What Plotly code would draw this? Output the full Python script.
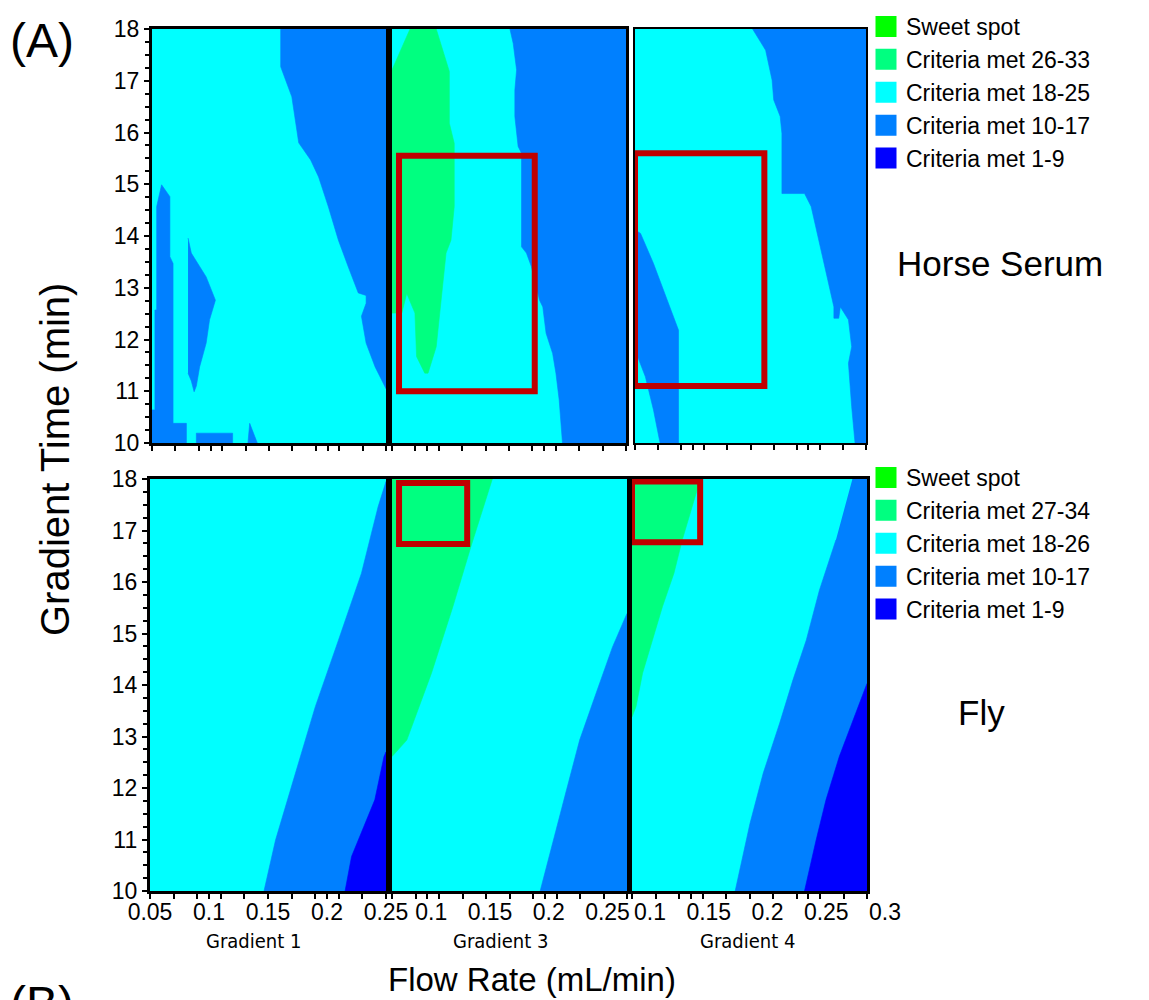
import plotly.graph_objects as go

W, H = 1149, 1000
FONT = "Arial, Liberation Sans, sans-serif"
NARROW = "Liberation Sans Narrow, Arial Narrow, DejaVu Sans Condensed, Liberation Sans, sans-serif"

# ---------------- data ----------------
FLOW_RANGES = [[0.05, 0.25], [0.07, 0.27], [0.10, 0.30]]
TIME_RANGE = [10, 18]
FLOW_TICKS = [0.05, 0.1, 0.15, 0.2, 0.25, 0.3]
FLOW_TICK_TEXT = ["0.05", "0.1", "0.15", "0.2", "0.25", "0.3"]
TIME_TICKS = [10, 11, 12, 13, 14, 15, 16, 17, 18]
GRADIENTS = ["Gradient 1", "Gradient 3", "Gradient 4"]
SAMPLES = ["Horse Serum", "Fly"]

LEVELS_HS = ["Sweet spot", "Criteria met 26-33", "Criteria met 18-25", "Criteria met 10-17", "Criteria met 1-9"]
LEVELS_FLY = ["Sweet spot", "Criteria met 27-34", "Criteria met 18-26", "Criteria met 10-17", "Criteria met 1-9"]
LEVEL_COLORS = ["#00FF00", "#00FF80", "#00FFFF", "#0080FF", "#0000FF"]
BASE_LEVEL = 2  # "Criteria met 18-25/26" fills each design space

# Horse serum, gradient 1 (region outlines: flow rate, gradient time)
hs_g1_right_flow = [0.160, 0.160, 0.1695, 0.1754, 0.1856, 0.1924, 0.2008, 0.2093, 0.2178, 0.2263, 0.2330, 0.2330, 0.2290, 0.2330, 0.2407, 0.2475, 0.250, 0.250]
hs_g1_right_time = [18.0, 17.27, 16.69, 15.80, 15.47, 15.14, 14.56, 13.92, 13.40, 12.90, 12.85, 12.70, 12.45, 11.93, 11.47, 11.15, 11.05, 18.0]
hs_g1_strip_flow = [0.050, 0.050, 0.0525, 0.0525, 0.054, 0.054, 0.0582, 0.0653, 0.0653, 0.068, 0.068, 0.0794, 0.0794]
hs_g1_strip_time = [10.0, 10.64, 10.64, 12.57, 12.57, 14.57, 14.99, 14.76, 13.60, 13.47, 10.38, 10.38, 10.0]
hs_g1_sliver_flow = [0.0808, 0.0836, 0.0963, 0.1042, 0.0992, 0.0963, 0.0907, 0.0879, 0.0860, 0.0836, 0.0808]
hs_g1_sliver_time = [13.96, 13.67, 13.21, 12.76, 12.38, 11.93, 11.47, 11.10, 10.99, 11.20, 11.35]
hs_g1_foot_flow = [0.0879, 0.0879, 0.1189, 0.1189]
hs_g1_foot_time = [10.0, 10.19, 10.19, 10.0]
hs_g1_spike_flow = [0.132, 0.1335, 0.140]
hs_g1_spike_time = [10.0, 10.38, 10.0]

# Horse serum, gradient 3
hs_g3_green_flow = [0.070, 0.0854, 0.1078, 0.1134, 0.1190, 0.1190, 0.1232, 0.1232, 0.1204, 0.1162, 0.1120, 0.1078, 0.1008, 0.0980, 0.0910, 0.0896, 0.0826, 0.0784, 0.070]
hs_g3_green_time = [17.21, 18.0, 18.0, 17.59, 17.18, 16.18, 15.79, 14.57, 13.92, 13.67, 12.76, 11.86, 11.35, 11.35, 11.67, 12.51, 12.89, 12.51, 12.51]
hs_g3_blue_flow = [0.1708, 0.1736, 0.1765, 0.1750, 0.1750, 0.1778, 0.1807, 0.1807, 0.1849, 0.1891, 0.1933, 0.1961, 0.1989, 0.2017, 0.2073, 0.2101, 0.2129, 0.2143, 0.2157, 0.270, 0.270]
hs_g3_blue_time = [18.0, 17.72, 17.21, 16.82, 16.31, 15.73, 15.60, 13.79, 13.67, 13.41, 13.02, 12.76, 12.63, 12.12, 11.73, 11.35, 10.83, 10.31, 10.0, 10.0, 18.0]

# Horse serum, gradient 4
hs_g4_blue_flow = [0.2018, 0.2131, 0.2187, 0.2201, 0.2257, 0.2272, 0.2272, 0.2468, 0.2525, 0.2595, 0.2665, 0.2722, 0.2722, 0.2764, 0.2778, 0.2848, 0.2876, 0.2848, 0.2876, 0.2905, 0.300, 0.300]
hs_g4_blue_time = [18.0, 17.59, 17.01, 16.63, 16.31, 15.98, 14.82, 14.82, 14.57, 13.86, 13.15, 12.63, 12.41, 12.41, 12.63, 12.38, 11.86, 11.54, 10.70, 10.0, 10.0, 18.0]
hs_g4_left_flow = [0.100, 0.1048, 0.1160, 0.1259, 0.1343, 0.1377, 0.1377, 0.1217, 0.1160, 0.1090, 0.100]
hs_g4_left_time = [14.12, 14.05, 13.47, 12.89, 12.41, 12.18, 10.0, 10.0, 10.64, 11.28, 11.80]

# Fly, gradient 1
fly_g1_blue_flow = [0.1466, 0.1564, 0.1733, 0.1901, 0.2097, 0.2292, 0.2433, 0.2475, 0.250, 0.250]
fly_g1_blue_time = [10.0, 10.99, 12.29, 13.58, 14.87, 16.17, 17.46, 17.79, 17.95, 10.0]
fly_g1_dark_flow = [0.2153, 0.2208, 0.2405, 0.2483, 0.250, 0.250]
fly_g1_dark_time = [10.0, 10.67, 11.77, 12.61, 12.70, 10.0]

# Fly, gradient 3
fly_g3_green_flow = [0.070, 0.1554, 0.1372, 0.1218, 0.1036, 0.0826, 0.070]
fly_g3_green_time = [18.0, 18.0, 16.69, 15.52, 14.23, 12.93, 12.61]
fly_g3_blue_flow = [0.270, 0.2577, 0.2437, 0.2297, 0.2185, 0.2072, 0.1961, 0.270]
fly_g3_blue_time = [15.39, 14.74, 13.84, 12.93, 11.96, 10.99, 10.0, 10.0]

# Fly, gradient 4
fly_g4_green_flow = [0.100, 0.1582, 0.1428, 0.1357, 0.1259, 0.1174, 0.1090, 0.1034, 0.100]
fly_g4_green_time = [18.0, 18.0, 16.82, 16.17, 15.52, 14.87, 14.23, 13.58, 13.38]
fly_g4_blue_flow = [0.2876, 0.300, 0.300, 0.1878, 0.2004, 0.2117, 0.2257, 0.2370, 0.2483, 0.2595, 0.2736]
fly_g4_blue_time = [18.0, 18.0, 10.0, 10.0, 11.31, 12.29, 13.26, 14.10, 14.87, 15.84, 16.82]
fly_g4_dark_flow = [0.300, 0.2764, 0.2651, 0.2567, 0.2468, 0.300]
fly_g4_dark_time = [14.03, 12.61, 11.77, 10.99, 10.0, 10.0]

# highlighted operating windows (flow range, time range)
hs_g3_box_flow = [0.076, 0.192]
hs_g3_box_time = [11.0, 15.55]
hs_g4_box_flow = [0.100, 0.212]
hs_g4_box_time = [11.1, 15.6]
fly_g3_box_flow = [0.076, 0.134]
fly_g3_box_time = [16.74, 17.92]
fly_g4_box_flow = [0.100, 0.158]
fly_g4_box_time = [16.77, 17.95]

# panel numbering: 1-3 horse serum (G1, G3, G4), 4-6 fly
REGIONS = [
    (1, 3, hs_g1_right_flow, hs_g1_right_time),
    (1, 3, hs_g1_strip_flow, hs_g1_strip_time),
    (1, 3, hs_g1_sliver_flow, hs_g1_sliver_time),
    (1, 3, hs_g1_foot_flow, hs_g1_foot_time),
    (1, 3, hs_g1_spike_flow, hs_g1_spike_time),
    (2, 1, hs_g3_green_flow, hs_g3_green_time),
    (2, 3, hs_g3_blue_flow, hs_g3_blue_time),
    (3, 3, hs_g4_blue_flow, hs_g4_blue_time),
    (3, 3, hs_g4_left_flow, hs_g4_left_time),
    (4, 3, fly_g1_blue_flow, fly_g1_blue_time),
    (4, 4, fly_g1_dark_flow, fly_g1_dark_time),
    (5, 1, fly_g3_green_flow, fly_g3_green_time),
    (5, 3, fly_g3_blue_flow, fly_g3_blue_time),
    (6, 1, fly_g4_green_flow, fly_g4_green_time),
    (6, 3, fly_g4_blue_flow, fly_g4_blue_time),
    (6, 4, fly_g4_dark_flow, fly_g4_dark_time),
]
BOXES = [
    (2, hs_g3_box_flow, hs_g3_box_time),
    (3, hs_g4_box_flow, hs_g4_box_time),
    (5, fly_g3_box_flow, fly_g3_box_time),
    (6, fly_g4_box_flow, fly_g4_box_time),
]

# ---------------- layout geometry (pixels) ----------------
COL_PX = [
    [[152, 386], [392, 626], [635, 866]],   # top row
    [[150, 386], [392, 627], [632, 867]],   # bottom row
]
ROW_PX = [[29, 443], [479, 891]]
LINE_W = [[3.3, 3.3, 2.4], [3.3, 3.3, 3.3]]
TICK_SHIFT = [0, 4, 18]

def xdom(a, b):
    return [a / W, b / W]

def ydom(top, bot):
    return [1 - bot / H, 1 - top / H]

fig = go.Figure()

# base fill of every design space, then the other levels
for r in range(2):
    for c in range(3):
        p = r * 3 + c + 1
        f0, f1 = FLOW_RANGES[c]
        t0, t1 = TIME_RANGE
        fig.add_trace(go.Scatter(
            x=[f0, f1, f1, f0], y=[t0, t0, t1, t1], xaxis=f"x{p}", yaxis=f"y{p}",
            mode="lines", fill="toself", fillcolor=LEVEL_COLORS[BASE_LEVEL],
            line=dict(width=0, color=LEVEL_COLORS[BASE_LEVEL]),
            hoverinfo="skip", showlegend=False))

for order in (3, 4, 1):
    for p, lvl, fl, tm in REGIONS:
        if lvl != order:
            continue
        fig.add_trace(go.Scatter(
            x=fl, y=tm, xaxis=f"x{p}", yaxis=f"y{p}", mode="lines", fill="toself",
            fillcolor=LEVEL_COLORS[lvl], line=dict(width=0.6, color=LEVEL_COLORS[lvl]),
            hoverinfo="skip", showlegend=False))

# legends
for lg, labels, ax in (("legend", LEVELS_HS, 1), ("legend2", LEVELS_FLY, 4)):
    for lab, col in zip(labels, LEVEL_COLORS):
        fig.add_trace(go.Scatter(
            x=[None], y=[None], xaxis=f"x{ax}", yaxis=f"y{ax}", mode="markers",
            marker=dict(symbol="square", size=16, color=col, line=dict(width=5, color=col)),
            name=lab, legend=lg, showlegend=True, hoverinfo="skip"))

layout = dict(
    width=W, height=H, margin=dict(l=0, r=0, t=0, b=0, pad=0, autoexpand=False),
    paper_bgcolor="white", plot_bgcolor="white",
    font=dict(family=FONT, color="black", size=23),
    showlegend=True,
)

for r in range(2):
    for c in range(3):
        p = r * 3 + c + 1
        cpx = COL_PX[r][c]
        lw = LINE_W[r][c]
        f0, f1 = FLOW_RANGES[c]
        tv = [v for v in FLOW_TICKS if f0 - 1e-9 <= v <= f1 + 1e-9]
        tt = [FLOW_TICK_TEXT[FLOW_TICKS.index(v)] for v in tv]
        layout[f"xaxis{p}"] = dict(
            domain=xdom(*cpx), range=[f0, f1], anchor=f"y{p}", automargin=False,
            showline=True, mirror=True, linecolor="black", linewidth=lw,
            showgrid=False, zeroline=False, fixedrange=True,
            tickmode="array", tickvals=tv, ticktext=tt,
            ticks="outside", ticklen=5, tickwidth=2, tickcolor="black",
            showticklabels=(r == 1), ticklabelshift=TICK_SHIFT[c],
            ticklabelstandoff=-7,
            tickfont=dict(size=23, family=FONT, color="black"),
            minor=dict(tick0=f0, dtick=0.02, ticks="outside", ticklen=5,
                       tickwidth=1.5, tickcolor="black", showgrid=False),
        )
        yax = dict(
            domain=ydom(*ROW_PX[r]), range=TIME_RANGE, anchor=f"x{p}", automargin=False,
            showline=True, mirror=True, linecolor="black", linewidth=lw,
            showgrid=False, zeroline=False, fixedrange=True,
        )
        if c == 0:
            yax.update(tickmode="array", tickvals=TIME_TICKS,
                       ticktext=[str(v) for v in TIME_TICKS],
                       ticks="outside", ticklen=5, tickwidth=2, tickcolor="black",
                       tickfont=dict(size=23, family=FONT, color="black"),
                       minor=dict(dtick=0.25, ticks="outside", ticklen=4,
                                  tickwidth=1.5, tickcolor="black", showgrid=False))
        else:
            yax.update(ticks="", showticklabels=False)
        layout[f"yaxis{p}"] = yax

legend_common = dict(
    xanchor="left", yanchor="top", bgcolor="rgba(0,0,0,0)", borderwidth=0,
    font=dict(size=23, family=FONT, color="black"), itemclick=False,
    itemdoubleclick=False, tracegroupgap=0, itemwidth=30,
)
layout["legend"] = dict(x=866 / W, y=1 - 5 / H, **legend_common)
layout["legend2"] = dict(x=866 / W, y=1 - 456 / H, **legend_common)

shapes = []
for p, fl, tm in BOXES:
    shapes.append(dict(type="rect", xref=f"x{p}", yref=f"y{p}",
                       x0=fl[0], x1=fl[1], y0=tm[0], y1=tm[1],
                       line=dict(color="#C00000", width=6), layer="above"))
layout["shapes"] = shapes

def note(text, cx, cy, size, family=FONT, **kw):
    d = dict(text=text, x=cx / W, y=1 - cy / H, xref="paper", yref="paper",
             xanchor="center", yanchor="middle", showarrow=False,
             font=dict(size=size, family=family, color="black"))
    d.update(kw)
    return d

ann = [
    note("(A)", 42, 40, 48),
    note("(B)", 42, 975, 48, yanchor="top"),
    note("Flow Rate (mL/min)", 532, 979, 33),
    note("Gradient Time (min)", 55, 460, 40, textangle=-90),
]
for lab, (cx, cy) in zip(SAMPLES, [(1000, 263), (981, 712)]):
    ann.append(note(lab, cx, cy, 35))
for lab, cx in zip(GRADIENTS, [253, 500, 747]):
    ann.append(note(lab, cx, 941, 20, family=NARROW))
layout["annotations"] = ann

fig.update_layout(**layout)

fig.write_html("out.html", config={"displayModeBar": False},
               post_script="document.body.style.margin='0';document.body.style.overflow='hidden';")
